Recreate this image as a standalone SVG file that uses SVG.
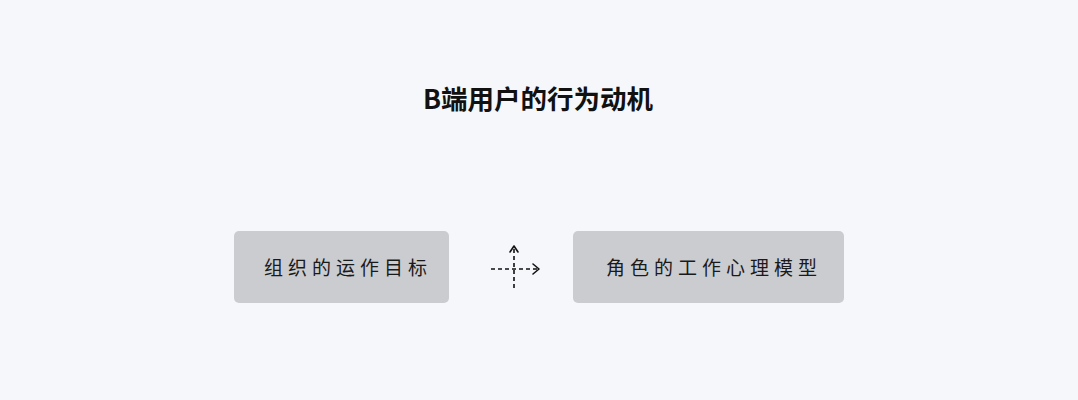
<svg xmlns="http://www.w3.org/2000/svg" width="1078" height="400" viewBox="0 0 1078 400">
<style>
.box{fill:#cbccd0}
.lbl{font-family:"Noto Sans CJK SC","Noto Sans",sans-serif;font-size:19px;fill:#1a1a1a;letter-spacing:5px;text-anchor:middle}
.title{font-family:"Noto Sans CJK SC","Noto Sans",sans-serif;font-size:26.5px;font-weight:700;fill:#111;text-anchor:middle}
.dash{stroke:#111;stroke-width:1.6;stroke-dasharray:4 3;fill:none}
.head{stroke:#111;stroke-width:1.6;fill:none;stroke-linecap:round;stroke-linejoin:round}
</style>
<rect width="1078" height="400" fill="#f6f7fb"/>
<g id="title"><text class="title" x="538" y="109">B端用户的行为动机</text></g>
<g id="node-org"><rect class="box" x="234" y="231" width="215" height="72" rx="5"/><text class="lbl" x="348" y="275">组织的运作目标</text></g>
<g id="node-role"><rect class="box" x="573" y="231" width="271" height="72" rx="5"/><text class="lbl" x="714" y="275">角色的工作心理模型</text></g>
<g id="connectors">
<line class="dash" x1="491" y1="269" x2="538" y2="269"/>
<polyline class="head" points="533,264 539,269 533,274"/>
<line class="dash" x1="514" y1="288" x2="514" y2="248"/>
<polyline class="head" points="510,252 514,246 518,252"/>
</g>
</svg>
